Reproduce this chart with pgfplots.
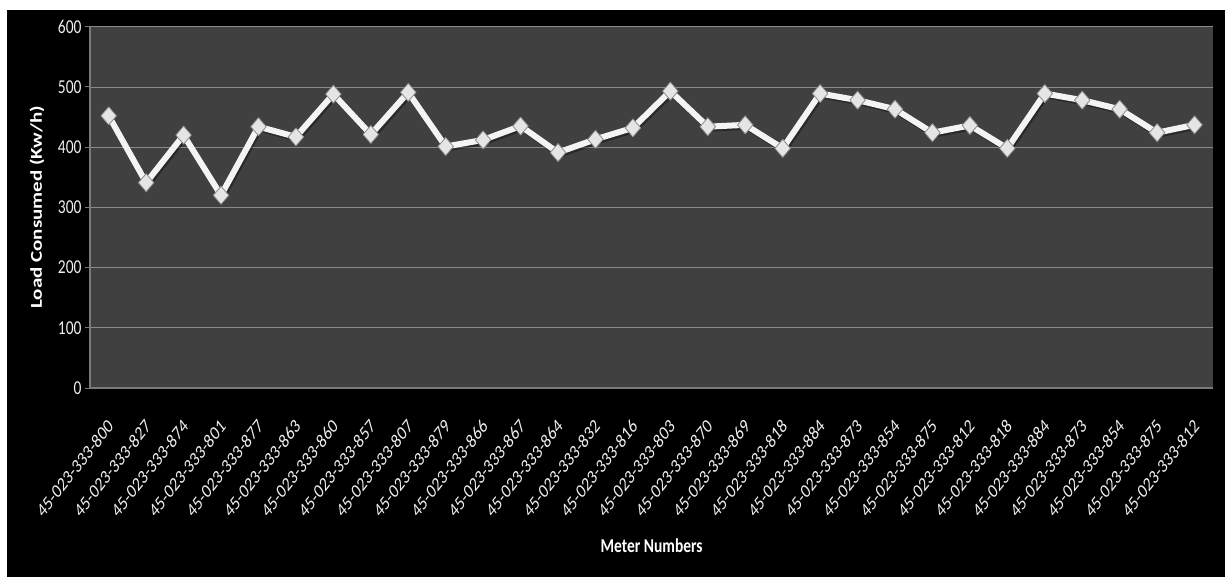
\documentclass[border=0pt]{standalone}
\usepackage{pgfplots}
\usepackage{pgfplotstable}
\pgfplotsset{compat=1.18}
\usepackage{fontspec}
\setmainfont{Carlito}

\definecolor{plotbg}{HTML}{404040}
\definecolor{gridgray}{HTML}{8A8A8A}
\definecolor{axisgray}{HTML}{7A7A7A}
\definecolor{ticktext}{HTML}{EDEDED}
\definecolor{linewhite}{HTML}{F4F4F4}

% Load per meter (Kw/h), in meter order
\pgfplotstableread{
idx load
0  452
1  341
2  420
3  320
4  434
5  417
6  488
7  421
8  491
9  401
10 412
11 435
12 391
13 413
14 432
15 493
16 434
17 437
18 398
19 489
20 478
21 463
22 424
23 436
24 398
25 489
26 478
27 463
28 424
29 437
}\loaddata

\begin{document}
\begin{tikzpicture}
% page margin and black chart area
\fill[white] (-90bp,-189bp) rectangle (1135bp,388bp);
\fill[black] (-83bp,-189bp) rectangle (1135bp,378bp);
\begin{axis}[
  at={(0,0)}, anchor=south west,
  scale only axis, width=1123.3bp, height=361.3bp,
  xmin=-0.5, xmax=29.5, ymin=0, ymax=600,
  ytick={0,100,...,600},
  xtick=data,
  xticklabels={45-023-333-800,45-023-333-827,45-023-333-874,45-023-333-801,45-023-333-877,45-023-333-863,45-023-333-860,45-023-333-857,45-023-333-807,45-023-333-879,45-023-333-866,45-023-333-867,45-023-333-864,45-023-333-832,45-023-333-816,45-023-333-803,45-023-333-870,45-023-333-869,45-023-333-818,45-023-333-884,45-023-333-873,45-023-333-854,45-023-333-875,45-023-333-812,45-023-333-818,45-023-333-884,45-023-333-873,45-023-333-854,45-023-333-875,45-023-333-812},
  axis background/.style={fill=plotbg},
  axis x line*=bottom, axis y line*=left,
  axis line style={axisgray, line width=1.2bp},
  ymajorgrids, major grid style={gridgray, line width=0.8bp},
  tick align=outside, major tick length=5bp,
  ytick style={axisgray, line width=1bp},
  xtick style={draw=none},
  /pgf/number format/assume math mode=true,
  yticklabel style={font=\fontsize{15.5bp}{18bp}\selectfont, text=ticktext, yscale=1.27},
  xticklabel style={font=\fontsize{15.5bp}{18bp}\selectfont, text=ticktext,
    anchor=east, inner sep=0pt, xshift=2bp, yshift=-30bp, yscale=1.27, rotate=45},
  every axis y label/.style={at={(axis description cs:0,0.5)}, anchor=center,
    xshift=-53bp, yscale=1.27, rotate=90,
    font=\bfseries\fontsize{16.5bp}{18bp}\selectfont, text=white},
  every axis x label/.style={at={(axis description cs:0.5,0)}, anchor=center,
    yshift=-158bp, yscale=1.27,
    font=\bfseries\fontsize{15.5bp}{18bp}\selectfont, text=white},
  ylabel={Load Consumed (Kw/h)},
  xlabel={Meter Numbers},
  clip=false,
]
% soft shadow under the series
\addplot[color=black, opacity=0.35, line width=6bp, line join=round,
  forget plot, /tikz/xshift=1.5bp, /tikz/yshift=-2bp]
  table[x=idx, y=load] {\loaddata};
\addplot[color=linewhite, line width=6bp, line join=round,
  mark=diamond*, mark size=9bp,
  mark options={fill=white!90!black, draw=white!55!black, line width=0.8bp, xscale=1.15}]
  table[x=idx, y=load] {\loaddata};
\end{axis}
\pgfresetboundingbox
\path (-90bp,-189bp) rectangle (1135bp,388bp);
\end{tikzpicture}
\end{document}
